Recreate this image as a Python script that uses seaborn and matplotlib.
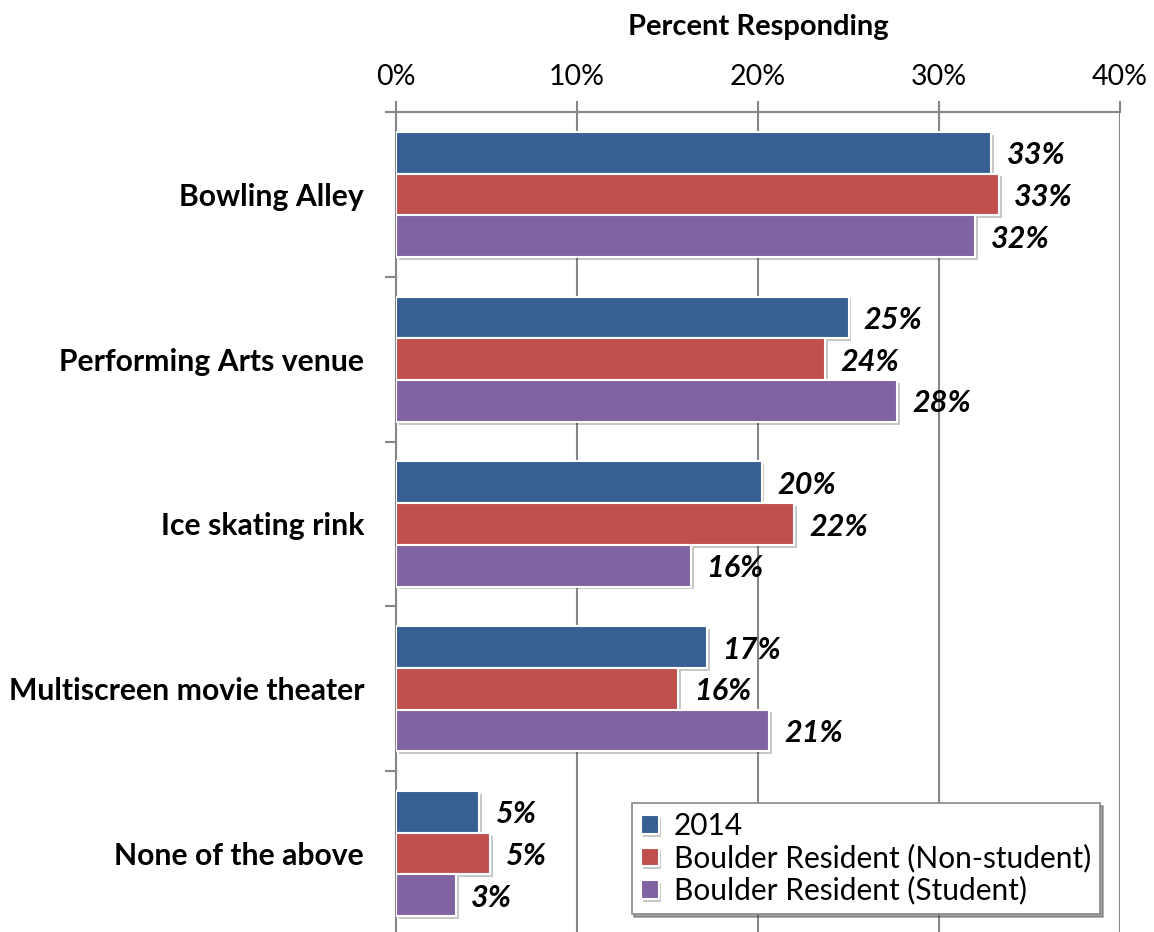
import matplotlib
matplotlib.use("Agg")
import matplotlib.pyplot as plt
import matplotlib.patheffects as pe
from matplotlib.ticker import FixedLocator
import seaborn as sns
import pandas as pd

# Survey data: share of respondents who would like each facility
categories = ["Bowling Alley", "Performing Arts venue", "Ice skating rink",
              "Multiscreen movie theater", "None of the above"]
groups = ["2014", "Boulder Resident (Non-student)", "Boulder Resident (Student)"]
pct_2014 = [32.9, 25.0, 20.2, 17.2, 4.6]
pct_nonstudent = [33.3, 23.7, 22.0, 15.6, 5.2]
pct_student = [32.0, 27.7, 16.3, 20.6, 3.3]
x_ticks = [0, 10, 20, 30, 40]
x_tick_labels = ["0%", "10%", "20%", "30%", "40%"]

colors = ["#366092", "#C0504D", "#8064A2"]

rows = []
for g, vals in zip(groups, [pct_2014, pct_nonstudent, pct_student]):
    for c, v in zip(categories, vals):
        rows.append({"Item": c, "Group": g, "Percent": v})
df = pd.DataFrame(rows)

sns.set_style("white")
plt.rcParams["font.family"] = ["Lato", "DejaVu Sans"]
plt.rcParams["text.color"] = "black"
plt.rcParams["axes.labelcolor"] = "black"

fig = plt.figure(figsize=(11.54, 9.32), dpi=100)
ax = fig.add_axes([396 / 1154, -4 / 932, 724 / 1154, 824 / 932])

sns.barplot(data=df, y="Item", x="Percent", hue="Group", order=categories,
            hue_order=groups, palette=colors, orient="h", width=0.76,
            saturation=1, edgecolor="white", linewidth=1.5, ax=ax, zorder=3)

shadow = [pe.SimplePatchShadow(offset=(2, -2), shadow_rgbFace="black", alpha=0.22),
          pe.Normal()]
for patch in ax.patches:
    patch.set_path_effects(shadow)

for cont in ax.containers:
    labels = ax.bar_label(cont, fmt="{:.0f}%", padding=11, fontsize=22,
                          fontweight="bold", fontstyle="italic", color="black")
    for t in labels:
        t.set_verticalalignment("center_baseline")

ax.set_xlim(0, 40)
ax.set_ylim(len(categories) - 0.5, -0.5)
ax.xaxis.tick_top()
ax.xaxis.set_label_position("top")
ax.set_xticks(x_ticks)
ax.set_xticklabels(x_tick_labels, fontsize=20.5)
ax.set_xlabel("Percent Responding", fontsize=21, fontweight="bold", labelpad=21)
ax.set_ylabel("")

ax.set_yticks(range(len(categories)))
ax.set_yticklabels(categories, fontsize=21.7, fontweight="bold")
ax.yaxis.set_minor_locator(FixedLocator([i - 0.5 for i in range(len(categories) + 1)]))
ax.tick_params(axis="y", which="major", length=0, pad=23, labelcolor="black")
ax.tick_params(axis="y", which="minor", length=8, width=1.5, color="#878787", left=True)
ax.tick_params(axis="x", which="major", length=8, width=1.5, color="#878787", pad=8,
               top=True, labelcolor="black")

ax.grid(axis="x", color="#878787", linewidth=1.5, zorder=0)
ax.set_axisbelow(True)
for side in ["right", "bottom"]:
    ax.spines[side].set_visible(False)
for side in ["top", "left"]:
    ax.spines[side].set_color("#878787")
    ax.spines[side].set_linewidth(1.5)

leg = ax.legend(loc="lower right", bbox_to_anchor=(0.972, 0.027), fontsize=21.5,
                frameon=True, fancybox=False, shadow=True, handlelength=0.6,
                handleheight=0.6, handletextpad=0.5, labelspacing=0.12,
                borderpad=0.3, borderaxespad=0, title=None)
leg.get_frame().set_edgecolor("#878787")
leg.get_frame().set_linewidth(1.2)
for txt in leg.get_texts():
    txt.set_color("black")

fig.savefig("out.png", dpi=100)
